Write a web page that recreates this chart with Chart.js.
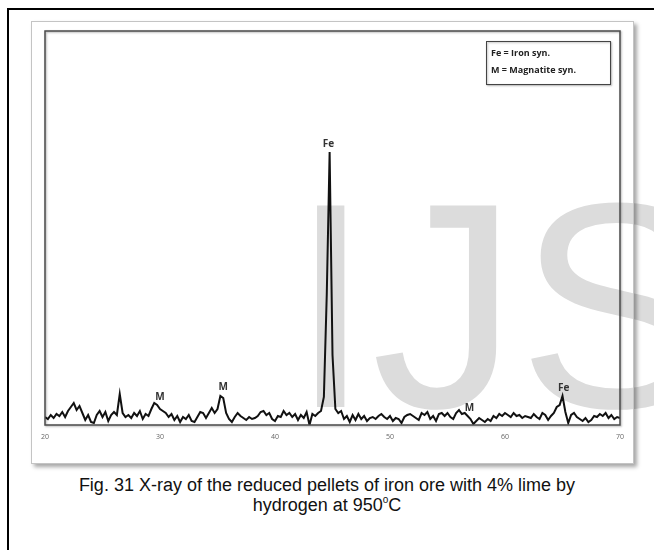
<!DOCTYPE html>
<html>
<head>
<meta charset="utf-8">
<script src="https://cdn.jsdelivr.net/npm/chart.js@4.4.0/dist/chart.umd.min.js"></script>
<style>
  body { margin: 0; width: 654px; height: 550px; overflow: hidden; background: #fff; position: relative; font-family: "Liberation Sans", Arial, sans-serif; }
  #outer { position: absolute; left: 7px; top: 8px; width: 700px; height: 600px; border-left: 2px solid #000; border-top: 2px solid #000; }
  #mark { position: absolute; left: 290px; top: 159px; font-size: 293px; line-height: 1; color: #dcdcdc; white-space: nowrap; }
  #frame { position: absolute; left: 31px; top: 21px; width: 601px; height: 441px; border: 1px solid #c4c4c4; box-shadow: 3px 3px 4px rgba(0,0,0,0.35); }
  #xrd { position: absolute; left: 31px; top: 21px; }
  #caption { position: absolute; left: 0; top: 475px; width: 654px; text-align: center; font-size: 18px; line-height: 20px; color: #111; }
  #caption sup { font-size: 10px; vertical-align: 8px; line-height: 0; }
</style>
</head>
<body>
<div id="outer"></div>
<div id="mark">IJS</div>
<div id="frame"></div>
<canvas id="xrd" width="603" height="443"></canvas>
<div id="caption">Fig. 31 X-ray of the reduced pellets of iron ore with 4% lime by<br>hydrogen at 950<sup>o</sup>C</div>
<script>
// 2-theta grid, 0.25 deg steps from 20 to 70
const angles = [];
for (let i = 0; i <= 200; i++) angles.push(20 + i * 0.25);

// intensities (one row per degree)
const counts = [
  8, 6, 10, 7,      // 20
  11, 9, 13, 8,     // 21
  14, 18, 22, 15,   // 22
  19, 12, 5, 10,    // 23
  3, 2, 10, 14,     // 24
  8, 13, 4, 10,     // 25
  13, 10, 31, 12,   // 26
  8, 10, 7, 12,     // 27
  9, 14, 6, 11,     // 28
  9, 16, 22, 20,    // 29
  16, 14, 12, 8,    // 30
  11, 5, 9, 3,      // 31
  8, 6, 10, 4,      // 32
  3, 8, 13, 12,     // 33
  7, 12, 17, 12,    // 34
  16, 29, 27, 12,   // 35
  6, 3, 8, 12,      // 36
  9, 7, 5, 8,       // 37
  6, 7, 9, 13,      // 38
  14, 10, 12, 6,    // 39
  4, 9, 8, 14,      // 40
  10, 12, 8, 11,    // 41
  5, 10, 7, 13,     // 42
  0, 11, 9, 12,     // 43
  14, 28, 130, 273, // 44
  70, 16, 12, 14,   // 45
  6, 9, 3, 10,      // 46
  5, 11, 6, 9,      // 47
  4, 7, 8, 6,       // 48
  9, 11, 8, 6,      // 49
  9, 4, 7, 6,       // 50
  2, 8, 10, 11,     // 51
  9, 7, 5, 12,      // 52
  10, 13, 6, 9,     // 53
  4, 11, 12, 9,     // 54
  12, 8, 6, 12,     // 55
  15, 11, 12, 9,    // 56
  6, 1, 4, 7,       // 57
  5, 3, 6, 4,       // 58
  9, 7, 11, 9,      // 59
  12, 10, 8, 12,    // 60
  9, 10, 7, 9,      // 61
  8, 7, 11, 8,      // 62
  6, 12, 10, 5,     // 63
  9, 12, 18, 20,    // 64
  29, 13, 2, 10,    // 65
  12, 8, 6, 4,      // 66
  7, 3, 5, 9,       // 67
  8, 11, 9, 12,     // 68
  7, 10, 6, 8,      // 69
  7                 // 70
];

const xTicks = [20, 30, 40, 50, 60, 70];

// phase labels above the peaks
const peakNames = ['M', 'M', 'Fe', 'M', 'Fe'];
const peakAngles = [30.0, 35.5, 44.65, 56.9, 65.1];
const peakHeights = [28, 38, 281, 17, 37];

const legendLines = ['Fe = Iron syn.', 'M = Magnatite syn.'];

const decor = {
  id: 'decor',
  afterDatasetsDraw(chart) {
    const { ctx, chartArea: a, scales: { x, y } } = chart;
    ctx.save();
    // plot frame
    ctx.shadowColor = 'rgba(0,0,0,0.3)';
    ctx.shadowBlur = 2;
    ctx.shadowOffsetX = 1;
    ctx.shadowOffsetY = 1;
    ctx.strokeStyle = '#4a4a4a';
    ctx.lineWidth = 1.5;
    ctx.strokeRect(a.left, a.top, a.width, a.height);

    // legend box
    const bw = 124, bh = 43;
    const bx = a.right - 10 - bw, by = a.top + 10;
    ctx.fillStyle = '#fff';
    ctx.fillRect(bx, by, bw, bh);
    ctx.lineWidth = 1;
    ctx.strokeStyle = '#444';
    ctx.strokeRect(bx + 0.5, by + 0.5, bw, bh);
    ctx.shadowColor = 'transparent';

    ctx.fillStyle = '#222';
    ctx.font = 'bold 9px "Open Sans", sans-serif';
    ctx.textAlign = 'left';
    ctx.textBaseline = 'middle';
    legendLines.forEach((t, i) => ctx.fillText(t, bx + 5, by + 12 + i * 17));

    // peak labels
    ctx.font = 'bold 10px "Open Sans", sans-serif';
    ctx.fillStyle = '#333';
    ctx.textAlign = 'center';
    peakNames.forEach((t, i) => {
      ctx.fillText(t, x.getPixelForValue(peakAngles[i]), y.getPixelForValue(peakHeights[i]));
    });
    ctx.restore();
  }
};

new Chart(document.getElementById('xrd'), {
  type: 'line',
  data: {
    datasets: [{
      data: angles.map((a, i) => ({ x: a, y: counts[i] })),
      borderColor: '#111',
      borderWidth: 2,
      pointRadius: 0,
      tension: 0,
      fill: false
    }]
  },
  options: {
    responsive: false,
    animation: false,
    layout: { padding: { left: 14, right: 14, top: 10, bottom: 0 } },
    plugins: { legend: { display: false }, tooltip: { enabled: false } },
    scales: {
      x: {
        type: 'linear',
        min: 20,
        max: 70,
        afterBuildTicks: s => { s.ticks = xTicks.map(v => ({ value: v })); },
        afterFit: s => { s.height = 39; },
        grid: { display: false, drawTicks: false },
        border: { display: false },
        ticks: { padding: 8, color: '#666', font: { size: 7, family: 'Open Sans' } }
      },
      y: { display: false, min: 0, max: 394 }
    }
  },
  plugins: [decor]
});
</script>
</body>
</html>
